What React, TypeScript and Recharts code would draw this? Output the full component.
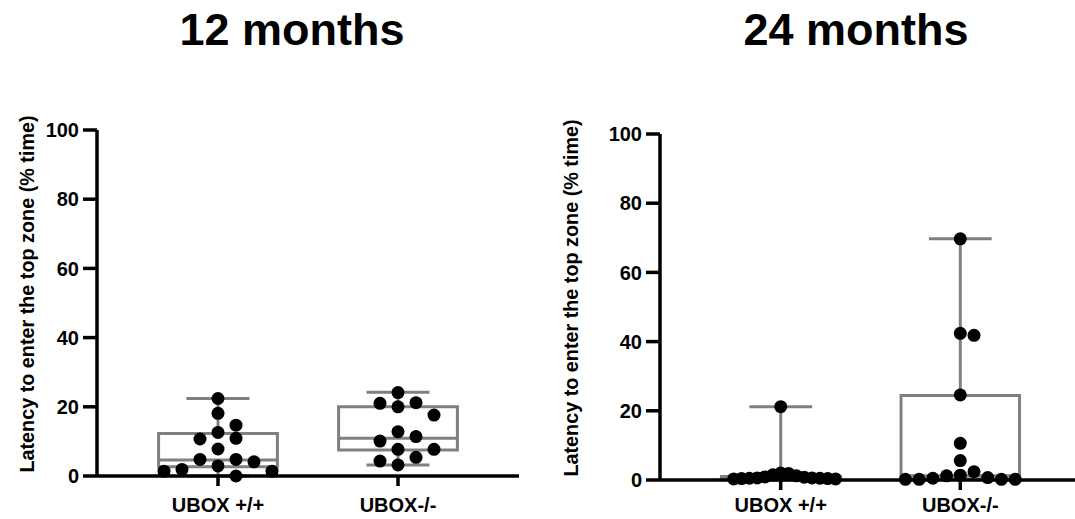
import React from 'react';
import {
  ScatterChart,
  Scatter,
  XAxis,
  YAxis,
  ReferenceArea,
  ReferenceLine,
} from 'recharts';

const categories = ['UBOX +/+', 'UBOX-/-'];
const yTicks = [0, 20, 40, 60, 80, 100];

// 12 months, individual animals
const wt12 = [22.4, 18.1, 14.7, 12.6, 10.7, 10.9, 7.8, 4.8, 4.8, 4.1, 2.9, 1.4, 1.4, 1.9, 0.0];
const ko12 = [24.1, 21.2, 20.0, 21.0, 17.6, 12.8, 11.4, 10.1, 7.7, 7.7, 5.4, 3.2, 4.3];

// 24 months
const wt24 = [21.2, 2.0, 1.9, 1.5, 1.2, 0.8, 0.9, 0.5, 0.4, 0.6, 0.3, 0.5, 0.4, 0.6, 0.3];
const ko24 = [69.7, 42.4, 41.8, 24.6, 10.6, 5.6, 2.4, 1.4, 1.2, 0.7, 0.5, 0.2, 0.2, 0.2, 0.2];

// box stats: [min, q1, median, q3, max]
const wt12Box = [0, 2.7, 4.6, 12.3, 22.4];
const ko12Box = [3.2, 7.5, 10.9, 20.0, 24.2];
const wt24Box = [0, 0.2, 0.4, 1.0, 21.2];
const ko24Box = [0.2, 0.3, 1.2, 24.4, 69.7];

const FONT = '"Liberation Sans", Arial, Helvetica, sans-serif';
const GREY = '#808080';
const PX_Y = 3.46; // px per y unit
const PX_X = 180; // px per category step
const BOX_HALF = 0.33;
const CAP_HALF = 0.175;

// simple beeswarm so points don't sit on top of each other
function swarm(values: number[], center: number) {
  const step = 18;
  const minDist = 13;
  const maxHalf = 55;
  const order = values.map((_, i) => i).sort((a, b) => values[b] - values[a]);
  const placed: { x: number; y: number }[] = [];
  const off: number[] = new Array(values.length).fill(0);
  for (const i of order) {
    const y = values[i] * PX_Y;
    for (let k = 0; k < 60; k++) {
      const m = k === 0 ? 0 : k % 2 === 1 ? Math.ceil(k / 2) : -Math.ceil(k / 2);
      const x = m * step;
      if (placed.every((p) => Math.hypot(p.x - x, p.y - y) >= minDist)) {
        placed.push({ x, y });
        off[i] = x;
        break;
      }
    }
  }
  const max = Math.max(...off.map((o) => Math.abs(o)));
  const s = max > maxHalf ? maxHalf / max : 1;
  return values.map((v, i) => ({ x: center + (off[i] * s) / PX_X, y: v }));
}

const tickStyle = { fontFamily: FONT, fontSize: 20, fontWeight: 700, fill: '#000' };

function BoxPlot({ stats, center }: { stats: number[]; center: number }) {
  const [min, q1, med, q3, max] = stats;
  const l = center - BOX_HALF;
  const r = center + BOX_HALF;
  const seg = (x1: number, y1: number, x2: number, y2: number, key: string) => (
    <ReferenceLine
      key={key}
      segment={[
        { x: x1, y: y1 },
        { x: x2, y: y2 },
      ]}
      stroke={GREY}
      strokeWidth={3}
    />
  );
  return [
    seg(center, q3, center, max, 'wu'),
    seg(center, min, center, q1, 'wd'),
    seg(center - CAP_HALF, max, center + CAP_HALF, max, 'cu'),
    seg(center - CAP_HALF, min, center + CAP_HALF, min, 'cd'),
    <ReferenceArea key="box" x1={l} x2={r} y1={q1} y2={q3} fill="none" fillOpacity={0} stroke={GREY} strokeWidth={3} strokeOpacity={1} />,
    seg(l, med, r, med, 'med'),
  ];
}

function Panel({
  left,
  width,
  marginLeft,
  top,
  boxes,
  points,
  tickMargin,
}: {
  left: number;
  width: number;
  marginLeft: number;
  top: number;
  boxes: number[][];
  points: number[][];
  tickMargin: number;
}) {
  const data = [...swarm(points[0], 1), ...swarm(points[1], 2)];
  return (
    <div style={{ position: 'absolute', left, top: 0 }}>
      <ScatterChart
        width={width}
        height={519}
        margin={{ top, right: 0, bottom: 519 - top - 346 - 35, left: marginLeft }}
      >
        <XAxis
          type="number"
          dataKey="x"
          domain={[1 - 121 / PX_X, 2 + 121 / PX_X]}
          ticks={[1, 2]}
          tickFormatter={(v: number) => categories[v - 1]}
          height={35}
          axisLine={{ stroke: '#000', strokeWidth: 3.5 }}
          tickLine={{ stroke: '#000', strokeWidth: 3.5 }}
          tickSize={10}
          tickMargin={tickMargin}
          tick={tickStyle}
        />
        <YAxis
          type="number"
          dataKey="y"
          domain={[0, 100]}
          ticks={yTicks}
          width={60}
          axisLine={{ stroke: '#000', strokeWidth: 3.5 }}
          tickLine={{ stroke: '#000', strokeWidth: 3.5 }}
          tickSize={14}
          tickMargin={4}
          tick={tickStyle}
        />
        {BoxPlot({ stats: boxes[0], center: 1 })}
        {BoxPlot({ stats: boxes[1], center: 2 })}
        <Scatter data={data} fill="#000" isAnimationActive={false} shape={(p: any) => <circle cx={p.cx} cy={p.cy} r={6.5} fill="#000" />} />
      </ScatterChart>
    </div>
  );
}

export default function App() {
  const yLabel = 'Latency to enter the top zone (% time)';
  return (
    <div style={{ position: 'fixed', left: 0, top: 0, width: 1075, height: 519, overflow: 'hidden', background: '#fff' }}>
      <Panel left={0} width={519} marginLeft={37} top={130} boxes={[wt12Box, ko12Box]} points={[wt12, ko12]} tickMargin={12} />
      <Panel left={540} width={541} marginLeft={60} top={134} boxes={[wt24Box, ko24Box]} points={[wt24, ko24]} tickMargin={8} />
      <svg width={1075} height={519} style={{ position: 'absolute', left: 0, top: 0, pointerEvents: 'none' }}>
        <g fontFamily={FONT} fontWeight={700} fill="#000">
          <text x={292} y={45} fontSize={45} textAnchor="middle">12 months</text>
          <text x={856} y={45} fontSize={45} textAnchor="middle">24 months</text>
          <text x={27} y={294} fontSize={19.8} textAnchor="middle" dominantBaseline="central" transform="rotate(-90 27 294)">
            {yLabel}
          </text>
          <text x={571} y={298} fontSize={19.8} textAnchor="middle" dominantBaseline="central" transform="rotate(-90 571 298)">
            {yLabel}
          </text>
        </g>
      </svg>
    </div>
  );
}
